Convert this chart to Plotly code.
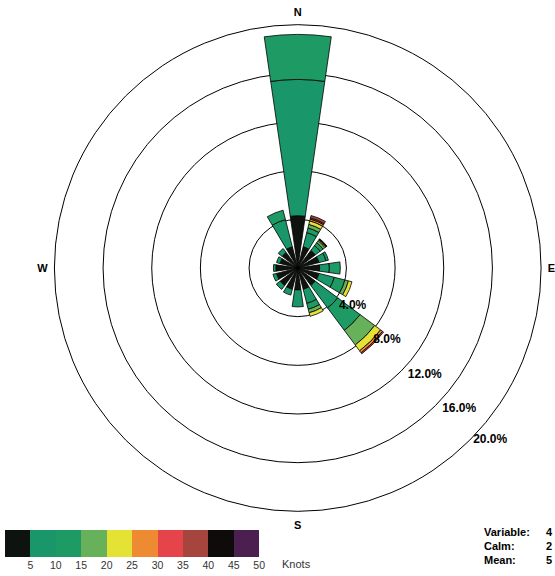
import plotly.graph_objects as go

# 16 compass directions (degrees clockwise from north)
directions = ["N", "NNE", "NE", "ENE", "E", "ESE", "SE", "SSE",
              "S", "SSW", "SW", "WSW", "W", "WNW", "NW", "NNW"]
angles = [0, 22.5, 45, 67.5, 90, 112.5, 135, 157.5,
          180, 202.5, 225, 247.5, 270, 292.5, 315, 337.5]

# Wind speed classes (knots) and their colours
speed_bins = ["0-5", "5-10", "10-15", "15-20", "20-25",
              "25-30", "30-35", "35-40", "40-45", "45-50"]
bin_colors = ["#0e130f", "#1a976a", "#1e9b65", "#66b159", "#e5e236",
              "#ee8a31", "#e5454a", "#a5453d", "#0f0b0b", "#4b1f4f"]

# Frequency (%) per direction for each speed class
freq_0_5 = [4.3, 1.8, 1.8, 1.8, 1.8, 1.8, 1.8, 1.8, 1.8, 1.8, 1.8, 1.8, 1.8, 1.5, 1.6, 1.8]
freq_5_10 = [11.2, 1.2, 0.5, 0.6, 0.8, 1.3, 2.3, 1.2, 1.4, 0.5, 0.4, 0.3, 0.2, 0.3, 0.4, 2.3]
freq_10_15 = [3.7, 0.4, 0.3, 0.2, 0.9, 0.9, 2.3, 0.5, 0, 0, 0, 0, 0, 0, 0, 0.8]
freq_15_20 = [0, 0.3, 0.2, 0, 0, 0.3, 1.5, 0.3, 0, 0, 0, 0, 0, 0, 0, 0]
freq_20_25 = [0, 0.3, 0.1, 0, 0, 0.3, 0.6, 0.3, 0, 0, 0, 0, 0, 0, 0, 0]
freq_25_30 = [0, 0.15, 0, 0, 0, 0, 0.2, 0, 0, 0, 0, 0, 0, 0, 0, 0]
freq_30_35 = [0, 0.1, 0, 0, 0, 0, 0.1, 0, 0, 0, 0, 0, 0, 0, 0, 0]
freq_35_40 = [0, 0.2, 0, 0, 0, 0, 0, 0, 0, 0, 0, 0, 0, 0, 0, 0]
freq_40_45 = [0, 0, 0.1, 0, 0, 0, 0, 0, 0, 0, 0, 0, 0, 0, 0, 0]
freq_45_50 = [0, 0, 0, 0, 0, 0, 0, 0, 0, 0, 0, 0, 0, 0, 0, 0]

ring_values = [4, 8, 12, 16, 20]
ring_labels = ["4.0%", "8.0%", "12.0%", "16.0%", "20.0%"]

cardinal_labels = ["N", "E", "S", "W"]
cardinal_angles = [0, 90, 180, 270]

key_ticks = [5, 10, 15, 20, 25, 30, 35, 40, 45, 50]
key_centers = [2.5, 7.5, 12.5, 17.5, 22.5, 27.5, 32.5, 37.5, 42.5, 47.5]

stats_names = ["Variable:", "Calm:", "Mean:"]
stats_values = ["4", "2", "5"]

FONT = "Liberation Sans, Arial, sans-serif"
R_MAX = 20
LABEL_NUDGE = 0.4  # push ring labels slightly outside their ring

fig = go.Figure()

all_bins = [freq_0_5, freq_5_10, freq_10_15, freq_15_20, freq_20_25,
            freq_25_30, freq_30_35, freq_35_40, freq_40_45, freq_45_50]

for name, color, values in zip(speed_bins, bin_colors, all_bins):
    r = [v if v > 0 else None for v in values]
    fig.add_trace(go.Barpolar(
        r=r, theta=angles, width=[16.5] * len(angles),
        name=name, marker=dict(color=color, line=dict(color="black", width=0.8)),
        showlegend=False,
    ))

# Ring percentage labels along the south-east diagonal
fig.add_trace(go.Scatterpolar(
    r=[min(v + LABEL_NUDGE, R_MAX) for v in ring_values],
    theta=[135] * len(ring_values),
    mode="text", text=["\u00a0" + t for t in ring_labels],
    textposition="middle right",
    textfont=dict(family=FONT, size=12, color="black", weight="bold"),
    cliponaxis=False, showlegend=False,
))

# Colour key for the speed classes
fig.add_trace(go.Bar(
    x=key_centers, y=[1] * len(key_centers), width=5,
    marker=dict(color=bin_colors, line=dict(width=0)),
    xaxis="x", yaxis="y", showlegend=False,
))

fig.update_layout(
    width=555, height=576, autosize=False,
    margin=dict(l=0, r=0, t=0, b=0),
    paper_bgcolor="white", plot_bgcolor="white",
    font=dict(family=FONT, color="black"),
    polar=dict(
        domain=dict(x=[55 / 555, 547 / 555], y=[1 - 514 / 576, 1 - 22 / 576]),
        bgcolor="white",
        barmode="stack",
        angularaxis=dict(
            rotation=90, direction="clockwise",
            tickmode="array", tickvals=cardinal_angles,
            ticktext=["<b>" + c + "</b>" for c in cardinal_labels],
            tickfont=dict(family=FONT, size=11, color="black"),
            ticks="outside", ticklen=4, tickcolor="rgba(0,0,0,0)",
            showgrid=False,
            showline=True, linecolor="black", linewidth=1,
        ),
        radialaxis=dict(
            range=[0, R_MAX], tickvals=ring_values,
            showticklabels=False, ticks="", showline=False,
            gridcolor="black", gridwidth=1,
        ),
    ),
    xaxis=dict(
        domain=[5 / 555, 262 / 555], range=[0, 50], anchor="y",
        tickmode="array", tickvals=key_ticks, ticktext=[str(t) for t in key_ticks],
        tickfont=dict(family=FONT, size=10.5, color="#333333"),
        ticks="", showgrid=False, zeroline=False, showline=False,
        fixedrange=True,
    ),
    yaxis=dict(
        domain=[1 - 557 / 576, 1 - 530 / 576], range=[0, 1], anchor="x",
        visible=False, fixedrange=True,
    ),
    bargap=0,
)

fig.add_annotation(
    x=283 / 555, y=1 - 564 / 576, xref="paper", yref="paper",
    text="Knots", showarrow=False, xanchor="left", yanchor="middle",
    font=dict(family=FONT, size=11, color="#333333"),
)

for i, (label, value) in enumerate(zip(stats_names, stats_values)):
    yy = 1 - (532 + 14 * i) / 576
    fig.add_annotation(
        x=487 / 555, y=yy, xref="paper", yref="paper",
        text="<b>" + label + "</b>", showarrow=False,
        xanchor="left", yanchor="middle",
        font=dict(family=FONT, size=11, color="black"),
    )
    fig.add_annotation(
        x=550 / 555, y=yy, xref="paper", yref="paper",
        text="<b>" + value + "</b>", showarrow=False,
        xanchor="left", yanchor="middle",
        font=dict(family=FONT, size=11, color="black"),
    )

fig.write_html("out.html")
